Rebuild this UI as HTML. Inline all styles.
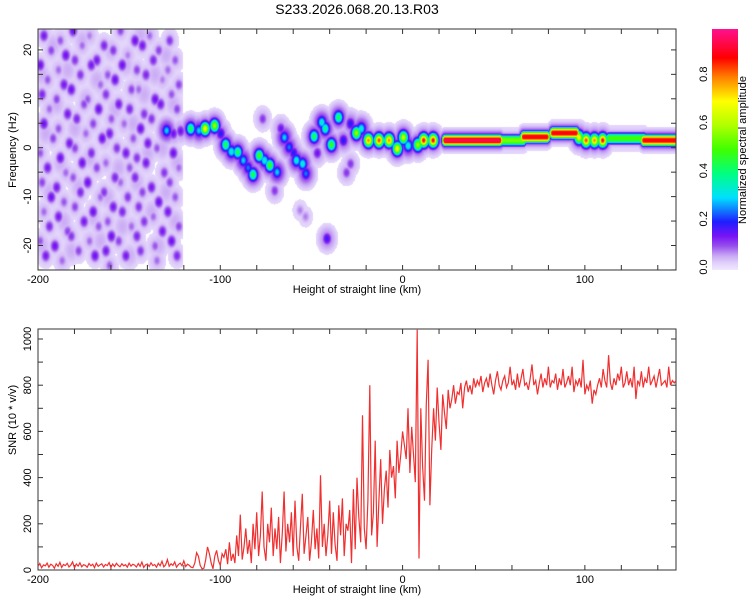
<!DOCTYPE html>
<html><head><meta charset="utf-8"><style>
body{margin:0;background:#fff;width:750px;height:600px;overflow:hidden;position:relative;font-family:"Liberation Sans",sans-serif}
#hm{position:absolute;left:38px;top:29px}
svg{position:absolute;left:0;top:0}
text{font-family:"Liberation Sans",sans-serif;fill:#000}
</style></head><body>
<canvas id="hm" width="638" height="241"></canvas>
<svg id="s" width="750" height="600"></svg>
<script>
// ---- data ----
const snrStart=-200, snrStep=1;
const snrValues=[15,28,10,22,18,30,12,25,20,8,27,16,33,11,24,19,29,13,21,35,9,26,17,31,14,23,20,12,28,18,25,10,30,16,22,27,13,24,19,32,11,26,15,29,20,14,27,18,23,12,30,17,25,21,13,28,16,34,11,22,26,15,31,19,24,12,29,18,38,14,22,45,16,27,20,35,12,24,30,18,40,15,25,20,12,
10,30,75,60,20,5,8,45,100,70,30,5,60,85,40,20,70,55,90,25,120,40,70,30,150,60,240,45,100,180,70,130,30,200,90,
250,60,150,340,100,40,200,120,270,60,180,90,230,30,160,340,80,200,120,250,60,300,100,40,190,330,70,150,230,40,120,260,90,180,50,410,100,200,60,150,
300,70,250,110,40,280,150,310,60,200,170,260,30,350,90,400,230,120,670,180,90,300,800,150,250,560,100,300,480,200,350,430,270,520,400,450,310,560,420,500,
600,540,480,700,420,620,500,380,1040,50,700,450,300,720,910,280,520,700,560,790,640,520,760,680,610,780,700,740,800,720,770,760,810,700,790,820,770,800,760,830,
790,820,800,840,770,810,830,790,850,800,760,820,860,800,780,820,840,790,810,880,800,820,780,850,790,830,870,800,810,780,830,890,800,820,760,810,850,790,830,800,880,790,820,810,850,780,830,800,870,790,810,840,800,880,770,820,800,830,790,910,760,800,780,820,720,780,760,800,830,790,870,820,790,930,810,780,830,800,850,820,880,790,810,860,800,830,790,880,740,820,800,860,790,830,810,880,800,820,840,790,830,870,800,810,820,790,880,800,820,810,820];
const ridgeX=[-129.7,-126,-116.5,-112,-108.6,-103.4,-100,-97.3,-94.2,-90.7,-87.6,-85,-82.3,-78.9,-76,-73.1,-69.1,-77,-70.4,-65.1,-62.5,-60,-58.5,-55.1,-53.3,-48.8,-44.6,-42.7,-39.3,-35.4,-32.7,-28.8,-28.8,-25.6,-22.9,-19,-13.2,-7.7,-3.2,0.2,2.8,8.1,11.3,16.5,96.5,100.4,105,109.5,-56.5,-53.5,-41.7,-122,-67,-47,-31];
const ridgeF=[3.6,3,4,3.6,4,4.6,3,0.7,-0.7,-0.8,-2.5,-4,-5.4,-1.5,-2.5,-3.5,-4.9,6,-8.7,2.2,0.2,-1,-2.5,-3.2,-5.2,2.4,5.3,4,0.7,6.3,1.6,5,-3.2,3.1,4,1.6,1.6,1.6,-0.1,2.2,0.5,0.7,1.6,1.6,2.2,1.6,1.6,1.6,-12.7,-14,-18.5,3.5,4,-1,-5];
const ridgeA=[0.3,0.15,0.45,0.3,0.7,0.6,0.2,0.45,0.35,0.45,0.3,0.25,0.45,0.5,0.35,0.5,0.3,0.12,0.12,0.3,0.25,0.2,0.35,0.35,0.25,0.45,0.35,0.4,0.5,0.45,0.2,0.2,0.12,0.6,0.35,0.8,0.85,0.8,0.7,0.65,0.35,0.6,0.9,0.9,0.7,0.85,0.8,0.9,0.08,0.08,0.18,0.15,0.15,0.15,0.12];
const bandX0=[23,53,66,82,113,132];
const bandX1=[53,66,79,95,132,150];
const bandF=[1.6,1.6,2.3,3.1,2.0,1.6];
const bandA=[0.95,0.55,0.9,0.9,0.5,0.9];
const noiseX=[-197,-188,-181,-172,-164,-155,-147,-139,-128,
-193,-185,-176,-168,-159,-151,-143,-134,-125,
-199,-189,-180,-171,-162,-154,-146,-137,-129,
-195,-186,-177,-166,-158,-149,-141,-132,-123,
-198,-190,-182,-173,-163,-156,-145,-136,-127,
-194,-184,-175,-167,-160,-150,-142,-133,-124,
-197,-189,-179,-170,-161,-153,-144,-138,
-192,-183,-174,-165,-157,-148,-140,
-199,-188,-180,-171,-163,-152,-146,-135,-126,
-195,-185,-176,-168,-158,-150,-141,-131,-123,
-198,-190,-181,-173,-164,-155,-147,-138,-128,
-193,-186,-177,-166,-159,-151,-143,-134,-125,
-197,-189,-180,-170,-162,-154,-145,-137,-129,
-194,-184,-175,-167,-160,-149,-142,-132,-123,
-199,-191,-182,-172,-163,-156,-146,-136,-127,
-196,-187,-178,-169,-161,-152,-144,-135,-124];
const noiseF=[23,22,24,23,21,24,22,23,22,
20,19,21,18,20,19,21,20,18,
17,16,18,17,15,17,16,18,16,
14,13,15,13,14,12,15,14,13,
11,10,12,10,11,9,12,10,11,
8,7,9,8,6,8,7,9,8,
5,4,6,5,3,5,4,6,
2,1,3,2,0,2,1,
-1,-2,0,-1,-3,-1,-2,0,-1,
-4,-5,-3,-4,-6,-4,-3,-5,-4,
-7,-8,-6,-7,-9,-7,-6,-8,-7,
-10,-11,-9,-10,-12,-10,-9,-11,-10,
-13,-14,-12,-13,-15,-13,-12,-14,-13,
-16,-17,-15,-16,-18,-16,-15,-17,-16,
-19,-20,-18,-19,-21,-19,-18,-20,-19,
-22,-23,-21,-22,-24,-22,-21,-23,-22];
const noiseA=[0.12,0.08,0.13,0.06,0.11,0.09,0.13,0.07,0.1,
0.09,0.13,0.07,0.12,0.1,0.06,0.12,0.09,0.08,
0.13,0.07,0.1,0.12,0.08,0.13,0.09,0.11,0.07,
0.08,0.12,0.1,0.07,0.13,0.09,0.11,0.06,0.09,
0.11,0.09,0.13,0.08,0.1,0.12,0.07,0.13,0.08,
0.07,0.12,0.09,0.13,0.08,0.11,0.1,0.12,0.09,
0.13,0.08,0.11,0.09,0.12,0.07,0.13,0.1,
0.09,0.12,0.07,0.13,0.1,0.08,0.12,
0.08,0.13,0.09,0.11,0.07,0.12,0.1,0.08,0.13,
0.12,0.07,0.13,0.09,0.11,0.08,0.12,0.1,0.07,
0.09,0.12,0.08,0.13,0.1,0.07,0.11,0.12,0.09,
0.13,0.08,0.11,0.07,0.12,0.1,0.09,0.13,0.08,
0.07,0.12,0.09,0.13,0.08,0.11,0.1,0.07,0.12,
0.11,0.09,0.12,0.08,0.13,0.07,0.1,0.12,0.09,
0.08,0.13,0.1,0.07,0.12,0.09,0.11,0.08,0.13,
0.12,0.07,0.09,0.13,0.08,0.12,0.1,0.07,0.11];
const lightX=[-192,-176,-160,-144,-130,-198,-184,-168,-152,-136,-190,-174,-158,-142,-126,-196,-180,-164,-148,-132,-188,-172,-156,-140,-124,-194,-178,-162,-146,-130,-186,-170,-154,-138,-198,-182,-166,-150,-134,-125];
const lightF=[21,22,20,23,19,15,16,14,17,15,9,10,8,11,9,3,4,2,5,0,-3,-2,-4,-1,-3,-9,-8,-10,-7,-9,-15,-14,-16,-13,-20,-21,-19,-22,-20,-15];
const xTicks=[-200,-100,0,100];
const fTicks=[-20,-10,0,10,20];
const snrTicks=[0,200,400,600,800,1000];
const cbTicks=[0.0,0.2,0.4,0.6,0.8];
// ---- scales ----
const X=v=>38+(v+200)*1.8229;
const YF=f=>147.7-f*4.89;
const YS=s=>570-s*0.231;
const CB=v=>267-v*241;
const stops=[[0,[240,232,255]],[0.03,[224,208,250]],[0.06,[200,166,244]],[0.1,[150,78,236]],[0.14,[120,20,245]],[0.2,[30,30,255]],[0.3,[0,224,255]],[0.4,[0,255,128]],[0.5,[64,255,0]],[0.6,[176,255,0]],[0.7,[255,255,0]],[0.8,[255,128,0]],[0.88,[255,0,0]],[1,[255,16,144]]];
function cmap(v){v=Math.max(0,Math.min(1,v));for(let i=1;i<stops.length;i++){if(v<=stops[i][0]){const a=stops[i-1],b=stops[i],t=(v-a[0])/(b[0]-a[0]);return a[1].map((c,k)=>Math.round(c+(b[1][k]-c)*t));}}return stops[stops.length-1][1];}
// ---- heatmap ----
const cv=document.getElementById('hm'),ctx=cv.getContext('2d'),img=ctx.createImageData(638,241);
for(let py=0;py<241;py++){const f=(147.7-(py+29))/4.89;for(let px=0;px<638;px++){const x=px/1.8229-200;let v=0;
 if(x<-121){
  for(let i=0;i<lightX.length;i++){const dx=(x-lightX[i])/4,df=(f-lightF[i])/2.2;const q=dx*dx+df*df;if(q<10){const w=0.055*Math.exp(-q/2);if(w>v)v=w;}}
  for(let i=0;i<noiseX.length;i++){const dx=(x-noiseX[i])/1.8,df=(f-noiseF[i])/0.95;const q=dx*dx+df*df;if(q<16){let w=(noiseA[i]+0.02)*Math.exp(-q/2);const w2=0.05*Math.exp(-q/9);if(w2>w)w=w2;if(w>v)v=w;}}
 }
 for(let i=0;i<ridgeX.length;i++){const dx=(x-ridgeX[i])/1.8,df=(f-ridgeF[i])/0.95;const q=dx*dx+df*df;if(q<30){let w=ridgeA[i]*Math.exp(-q/2);const w2=Math.min(0.14,ridgeA[i]*0.5)*Math.exp(-q/8);if(w2>w)w=w2;if(w>v)v=w;}}
 for(let i=0;i<bandX0.length;i++){let dx=0;if(x<bandX0[i])dx=bandX0[i]-x;else if(x>bandX1[i])dx=x-bandX1[i];const df=(f-bandF[i]);const r=(dx/1.3)**2+(df/0.85)**2;let w=bandA[i]*Math.exp(-Math.pow(r,1.4)/2);
  const w3=0.2*bandA[i]*Math.exp(-((dx/2)**2+(df/1.3)**2)/2);if(w3>w)w=w3;
  const w2=0.045*Math.exp(-((dx/3)**2+(df/2.2)**2)/2);if(w2>w)w=w2;if(w>v)v=w;}
 const o=(py*638+px)*4;if(v>0.02){const c=cmap(v);img.data[o]=c[0];img.data[o+1]=c[1];img.data[o+2]=c[2];img.data[o+3]=255;}else{img.data[o+3]=0;}}}
ctx.putImageData(img,0,0);
// ---- svg ----
const NS='http://www.w3.org/2000/svg',svg=document.getElementById('s');
function el(t,a,p){const e=document.createElementNS(NS,t);for(const k in a)e.setAttribute(k,a[k]);(p||svg).appendChild(e);return e;}
const title=el('text',{x:357,y:14,'text-anchor':'middle','font-size':14});title.textContent='S233.2026.068.20.13.R03';


function frame(top,bot,name){const g=el('g',{});
 
 el('rect',{x:38,y:top,width:638,height:bot-top,fill:'none',stroke:'#333','stroke-width':1},g);
 for(let v=-200;v<=150;v+=20){const x=X(v);el('line',{x1:x,x2:x,y1:bot,y2:bot-5,stroke:'#333'},g);el('line',{x1:x,x2:x,y1:top,y2:top+5,stroke:'#333'},g);}
 xTicks.forEach(v=>{const t=el('text',{x:X(v),y:bot+13,'text-anchor':'middle','font-size':11},g);t.textContent=v;});
 const xl=el('text',{x:357,y:bot+23,'text-anchor':'middle','font-size':11},g);xl.textContent='Height of straight line (km)';
 
 
 return g;}
const g1=frame(29,270,'spectrogram-axes');
for(let f=-25;f<=25;f+=5){const y=YF(f);if(y<29||y>270)continue;el('line',{x1:38,x2:43,y1:y,y2:y,stroke:'#333'},g1);el('line',{x1:676,x2:671,y1:y,y2:y,stroke:'#333'},g1);}
fTicks.forEach(f=>{const t=el('text',{x:0,y:0,'text-anchor':'middle','font-size':11,transform:`translate(31,${YF(f)}) rotate(-90)`},g1);t.textContent=f;});
const yl1=el('text',{x:0,y:0,'text-anchor':'middle','font-size':11,transform:'translate(16,150) rotate(-90)'});yl1.textContent='Frequency (Hz)';


const g2=frame(329,570,'snr-axes');
for(let s=0;s<=1000;s+=100){const y=YS(s);el('line',{x1:38,x2:43,y1:y,y2:y,stroke:'#333'},g2);el('line',{x1:676,x2:671,y1:y,y2:y,stroke:'#333'},g2);}
snrTicks.forEach(s=>{const t=el('text',{x:0,y:0,'text-anchor':'middle','font-size':11,transform:`translate(31,${YS(s)}) rotate(-90)`},g2);t.textContent=s;});
const yl2=el('text',{x:0,y:0,'text-anchor':'middle','font-size':11,transform:'translate(16,420) rotate(-90)'});yl2.textContent='SNR (10 * v/v)';


const clip=el('clipPath',{id:'cp'});el('rect',{x:38,y:329,width:638,height:241},clip);
const pts=snrValues.map((s,i)=>X(snrStart+i*snrStep).toFixed(1)+','+YS(s).toFixed(1)).join(' ');
const line=el('polyline',{points:pts,fill:'none',stroke:'#f03030','stroke-width':1.2,'clip-path':'url(#cp)'});


// colorbar
const defs=el('defs',{});const lg=el('linearGradient',{id:'cbg',x1:0,y1:1,x2:0,y2:0},defs);
stops.forEach(s=>el('stop',{offset:s[0],'stop-color':`rgb(${s[1].join(',')})`},lg));
const cb=el('rect',{x:712,y:29,width:26,height:241,fill:'url(#cbg)'});


cbTicks.forEach(v=>{const t=el('text',{x:0,y:0,'text-anchor':'middle','font-size':11,transform:`translate(707,${CB(v)}) rotate(-90)`});t.textContent=v.toFixed(1);});
const cbt=el('text',{x:0,y:0,'text-anchor':'middle','font-size':11,transform:'translate(746,150) rotate(-90)'});cbt.textContent='Normalized spectral amplitude';


</script>
</body></html>
